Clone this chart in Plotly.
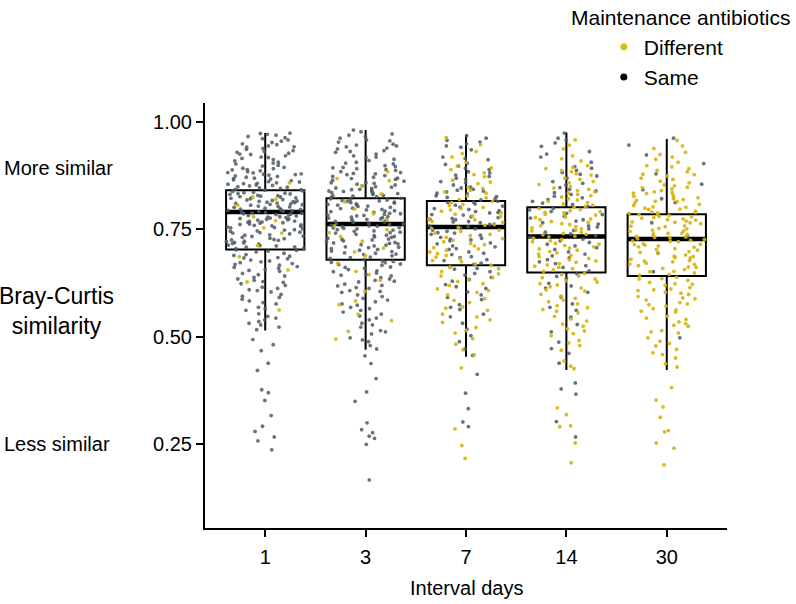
import plotly.graph_objects as go

# ---------------- data ----------------
categories = ["1", "3", "7", "14", "30"]

# box statistics per interval
upper_whisker = [0.974, 0.981, 0.970, 0.975, 0.960]
q3_vals = [0.841, 0.822, 0.816, 0.801, 0.785]
median_vals = [0.790, 0.762, 0.755, 0.733, 0.727]
q1_vals = [0.703, 0.679, 0.666, 0.649, 0.641]
lower_whisker = [0.514, 0.469, 0.453, 0.422, 0.422]

# individual similarity values (in thousandths), by interval and group
same_1 = [974, 969, 971, 958, 963, 952, 966, 955, 973, 961,
          947, 938, 941, 929, 933, 918, 924, 912, 906, 944, 921, 915, 902, 936, 909, 927, 949, 931, 904, 917, 942, 925,
          897, 886, 891, 878, 873, 865, 869, 858, 853, 882, 894, 861, 876, 888, 856, 871, 899, 867, 852, 884, 879, 863,
          892, 857, 874, 868, 881, 855, 889, 860, 877, 851,
          848, 843, 839, 831, 836, 824, 827, 819, 812, 815, 807, 803, 846, 834, 828, 821, 816, 809, 842, 833, 825, 811,
          804, 838, 829, 818, 813, 806, 845, 832, 822, 817, 801, 841, 826, 814, 808, 849, 835, 823, 810, 802,
          798, 794, 791, 789, 786, 783, 779, 776, 772, 768, 764, 761, 757, 753, 796, 792, 787, 781, 774, 769, 762, 755,
          799, 793, 788, 782, 777, 771, 766, 759, 751, 795, 785, 778, 773, 765, 758, 790, 784, 775, 767, 760, 754, 797,
          748, 743, 739, 734, 728, 722, 717, 711, 706, 702, 745, 737, 731, 725, 719, 713, 708, 704, 749, 741, 733, 726,
          718, 712, 705, 746, 736, 729, 721, 715, 709, 742, 724, 701,
          697, 691, 684, 678, 672, 666, 659, 654, 694, 687, 681, 674, 668, 661, 656, 699, 689, 676, 663, 652, 683, 670,
          647, 641, 634, 628, 619, 612, 604, 644, 631, 623, 615, 607, 638, 626, 609,
          598, 591, 583, 576, 568, 561, 553, 594, 579, 565, 587,
          547, 539, 531, 522, 516, 543, 527, 535,
          493, 481, 467, 438, 421, 376, 369, 351, 316, 291, 279, 266, 257, 236]
diff_1 = [858, 825, 806, 779, 770, 753, 741, 686, 655, 627, 562, 820, 712]

same_3 = [981, 972, 966, 958, 977, 953, 962, 969, 956,
          946, 937, 929, 921, 913, 906, 942, 933, 917, 902, 948, 925, 910, 939, 931, 918, 904, 944,
          898, 891, 884, 877, 869, 862, 855, 894, 887, 879, 871, 864, 858, 851, 896, 882, 873, 866, 859, 889, 875, 853,
          893, 868, 880, 857,
          848, 842, 837, 831, 824, 818, 812, 806, 845, 839, 833, 826, 819, 811, 803, 849, 841, 829, 821, 815, 808, 801,
          846, 835, 827, 816, 809, 843, 834, 822, 813, 804, 838, 828, 817, 807,
          798, 793, 787, 781, 776, 771, 766, 761, 756, 751, 796, 789, 783, 778, 772, 767, 762, 757, 752, 799, 791, 785,
          779, 774, 768, 763, 758, 753, 795, 786, 777, 769, 759, 754, 792, 782, 773, 764,
          748, 742, 736, 729, 723, 717, 711, 705, 745, 738, 731, 725, 719, 713, 707, 701, 749, 741, 733, 727, 721, 714,
          708, 703, 746, 735, 726, 716, 709, 743, 732, 718,
          698, 692, 685, 679, 672, 666, 659, 653, 695, 688, 682, 675, 669, 662, 656, 651, 699, 691, 684, 676, 668, 661,
          694, 673,
          648, 641, 634, 627, 619, 612, 605, 645, 637, 629, 622, 614, 607, 643, 631, 618, 603,
          597, 589, 581, 573, 565, 557, 593, 585, 576, 568, 561, 552,
          548, 539, 531, 522, 514, 506, 543, 527, 511,
          497, 488, 479, 471, 492,
          455, 437, 402, 371, 349, 299, 283, 276, 268, 263, 249, 166]
diff_3 = [884, 863, 851, 832, 814, 797, 786, 771, 758, 749, 733, 722, 706, 688, 671, 652, 644, 631, 605, 583, 574,
          552, 537, 512, 494, 868, 742, 697]

same_7 = [968, 957, 949, 962, 941, 953, 935, 944,
          918, 912, 904, 897, 889, 881, 873, 866, 858, 915, 901, 892, 884, 876, 869, 861, 853,
          848, 843, 837, 832, 826, 821, 815, 809, 804, 846, 839, 834, 828, 818, 812, 806, 801, 841, 824, 813,
          798, 793, 788, 783, 777, 772, 767, 761, 756, 751, 796, 789, 784, 779, 773, 768, 762, 757, 753, 791, 775, 765,
          748, 742, 736, 729, 723, 716, 709, 703, 745, 738, 731, 725, 718, 711, 705, 741, 727,
          697, 691, 684, 677, 671, 664, 657, 651, 694, 686, 679, 668, 659,
          647, 638, 629, 621, 612, 604, 643, 633, 616,
          597, 586, 574, 563, 552, 591, 568,
          546, 531, 517, 502, 488, 471, 456,
          412, 368, 332, 301, 290]
diff_7 = [963, 947, 931, 918, 906, 926,
          897, 889, 881, 872, 864, 856, 893, 877, 860,
          848, 841, 834, 827, 819, 812, 805, 845, 837, 823, 815, 808, 801,
          798, 792, 785, 779, 772, 766, 759, 752, 795, 788, 781, 774, 768, 761, 754,
          748, 741, 735, 728, 721, 714, 707, 701, 745, 738, 731, 724, 717, 711, 704,
          697, 689, 681, 674, 666, 658, 651, 693, 685, 677, 669, 661,
          646, 637, 628, 619, 611, 603, 641, 632, 623, 607,
          597, 588, 579, 569, 561, 552, 584, 566,
          546, 533, 521, 508, 495, 482, 469, 457, 539, 514,
          427, 285, 246, 216]

same_14 = [974, 962, 951, 943, 931, 918, 906, 957, 925,
           896, 887, 878, 869, 861, 853, 892, 874, 882, 857,
           847, 839, 831, 823, 815, 807, 843, 835, 827, 819, 811, 803,
           798, 791, 784, 776, 769, 762, 755, 795, 787, 780, 772, 765, 758, 751,
           747, 739, 731, 723, 715, 707, 743, 735, 727, 719, 711, 703,
           697, 688, 679, 670, 661, 653, 692, 683, 674, 665,
           646, 635, 624, 613, 603, 640, 618,
           592, 576, 561, 545, 528, 511, 568,
           487, 461, 438, 472,
           392, 366, 266, 302, 378]
diff_14 = [958, 937, 921, 909, 946, 914,
           898, 891, 884, 876, 869, 861, 854, 894, 887, 879, 866, 858,
           849, 843, 837, 831, 825, 818, 812, 806, 801, 846, 840, 834, 828, 821, 815, 809, 803,
           798, 793, 788, 783, 777, 772, 766, 761, 756, 751, 796, 791, 785, 779, 774, 768, 763, 758, 753, 789,
           748, 743, 737, 732, 726, 721, 715, 709, 704, 746, 740, 734, 729, 723, 717, 712, 706, 701, 738,
           698, 692, 686, 679, 673, 667, 661, 655, 695, 689, 682, 676, 670, 664, 658, 652,
           647, 641, 634, 627, 620, 613, 606, 644, 637, 630, 623, 616, 609,
           598, 589, 581, 572, 563, 555, 594, 585, 576, 567, 559,
           547, 536, 524, 513, 502, 491, 479, 468, 541, 529, 518, 507, 485,
           443, 431, 425,
           334, 290, 292, 252, 206, 318]

same_30 = [962, 946, 923, 903, 879, 842, 821, 765, 732, 651, 497, 855, 812, 694]
diff_30 = [957, 944, 929, 918, 906, 938, 913, 924,
           898, 891, 887, 878, 874, 866, 862, 853, 895, 884, 877, 869, 858, 851,
           848, 844, 837, 834, 827, 823, 817, 814, 808, 802, 846, 840, 836, 830, 825, 821, 815, 811, 805, 801, 833, 819,
           799, 796, 790, 788, 782, 779, 774, 771, 766, 763, 758, 756, 751, 797, 792, 789, 784, 780, 777, 772, 769, 765,
           757, 752, 787, 776, 767, 785,
           748, 745, 739, 737, 731, 728, 723, 721, 715, 711, 708, 703, 701, 746, 741, 738, 733, 730, 724, 722, 716, 713,
           709, 705, 740, 726, 714, 732,
           698, 694, 687, 684, 677, 674, 668, 662, 659, 652, 696, 690, 686, 680, 676, 671, 665, 661, 656, 651, 683, 669,
           648, 643, 635, 631, 623, 619, 611, 607, 601, 645, 638, 634, 626, 622, 614, 609, 603,
           598, 590, 585, 576, 571, 562, 557, 593, 588, 579, 574, 565, 559,
           547, 540, 530, 524, 514, 508, 543, 534, 526, 511,
           497, 489, 478, 470, 458, 450, 437, 429, 484, 462,
           381, 352, 312, 281, 278, 252, 240, 201, 336]

y_ticks = [0.25, 0.50, 0.75, 1.00]
y_tick_labels = ["0.25", "0.50", "0.75", "1.00"]

# ---------------- styling ----------------
FONT = "Liberation Sans, Arial, Helvetica, sans-serif"
GOLD = "rgba(214,180,10,0.9)"
GREY = "rgba(80,90,100,0.85)"
BOX_W = 0.78

same_groups = [same_1, same_3, same_7, same_14, same_30]
diff_groups = [diff_1, diff_3, diff_7, diff_14, diff_30]

def flatten(groups):
    xs, ys = [], []
    for cat, vals in zip(categories, groups):
        xs += [cat] * len(vals)
        ys += [v / 1000 for v in vals]
    return xs, ys

same_x, same_y = flatten(same_groups)
diff_x, diff_y = flatten(diff_groups)

fig = go.Figure()

# box outlines (precomputed statistics)
fig.add_trace(go.Box(
    x=categories, q1=q1_vals, median=median_vals, q3=q3_vals,
    lowerfence=lower_whisker, upperfence=upper_whisker,
    boxpoints=False, width=BOX_W, whiskerwidth=0,
    line=dict(color="black", width=2), fillcolor="rgba(255,255,255,0)",
    showlegend=False, hoverinfo="skip"))

# thick median bar
fig.add_trace(go.Box(
    x=categories, q1=median_vals, median=median_vals, q3=median_vals,
    lowerfence=median_vals, upperfence=median_vals,
    boxpoints=False, width=BOX_W, whiskerwidth=0,
    line=dict(color="black", width=4.5), fillcolor="rgba(0,0,0,0)",
    showlegend=False, hoverinfo="skip"))

# jittered points
for xs, ys, col in [(same_x, same_y, GREY), (diff_x, diff_y, GOLD)]:
    fig.add_trace(go.Box(
        x=xs, y=ys, boxpoints="all", jitter=1, pointpos=0, width=BOX_W,
        marker=dict(color=col, size=3.8, line=dict(width=0)),
        line=dict(color="rgba(0,0,0,0)", width=0), fillcolor="rgba(0,0,0,0)",
        showlegend=False, hoverinfo="y"))

# legend entries
fig.add_trace(go.Scatter(x=[None], y=[None], mode="markers", name="Different",
                         marker=dict(color="#d9c00a", size=7), legendgroup="a"))
fig.add_trace(go.Scatter(x=[None], y=[None], mode="markers", name="Same",
                         marker=dict(color="black", size=7), legendgroup="b"))

fig.update_layout(
    width=796, height=604,
    margin=dict(l=205, r=69, t=103, b=76),
    paper_bgcolor="white", plot_bgcolor="white",
    font=dict(family=FONT, size=20, color="black"),
    boxmode="overlay",
    showlegend=True,
    legend=dict(x=0.764, y=1.18, xanchor="left", yanchor="top",
                font=dict(size=21), itemwidth=30, tracegroupgap=0,
                bgcolor="rgba(0,0,0,0)"),
    xaxis=dict(type="category", categoryorder="array", categoryarray=categories,
               range=[-0.6, 4.6], showgrid=False, zeroline=False,
               showline=True, linecolor="black", linewidth=2,
               ticks="outside", ticklen=7, tickwidth=1.5, tickcolor="black",
               tickfont=dict(size=20), ticklabelstandoff=3),
    yaxis=dict(range=[0.054, 1.044], showgrid=False, zeroline=False,
               showline=True, linecolor="black", linewidth=2,
               ticks="outside", ticklen=7, tickwidth=1.5, tickcolor="black",
               tickvals=y_ticks, ticktext=y_tick_labels, tickfont=dict(size=20)),
    annotations=[
        dict(text="Interval days", x=0.5, y=-0.141, xref="paper", yref="paper",
             showarrow=False, font=dict(size=20), xanchor="center", yanchor="middle"),
        dict(text="Bray-Curtis<br>similarity", x=-0.284, y=0.56, xref="paper", yref="y",
             showarrow=False, font=dict(size=23), xanchor="center", yanchor="middle"),
        dict(text="More similar", x=-0.389, y=0.893, xref="paper", yref="y",
             showarrow=False, font=dict(size=20), xanchor="left", yanchor="middle"),
        dict(text="Less similar", x=-0.389, y=0.25, xref="paper", yref="y",
             showarrow=False, font=dict(size=20), xanchor="left", yanchor="middle"),
        dict(text="Maintenance antibiotics", x=0.697, y=1.2023, xref="paper", yref="paper",
             showarrow=False, font=dict(size=21), xanchor="left", yanchor="middle"),
    ],
)

fig.write_html("out.html", config={"displayModeBar": False},
               post_script="document.body.style.margin='0px';")
